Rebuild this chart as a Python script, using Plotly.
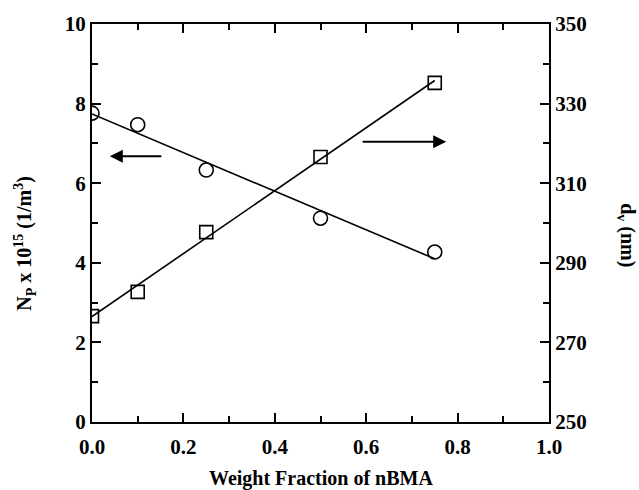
import plotly.graph_objects as go

# Data
wf = [0.0, 0.1, 0.25, 0.5, 0.75]
np_vals = [7.76, 7.47, 6.33, 5.12, 4.27]        # N_P x 10^15 (1/m^3), left axis
dv_vals = [276.6, 282.7, 297.7, 316.6, 335.2]   # d_v (nm), right axis

fit_x = [0.0, 0.75]
np_fit = [7.74, 4.10]
dv_fit = [276.5, 335.8]

FONT = "Liberation Serif"
fig = go.Figure()

fig.add_trace(go.Scatter(x=fit_x, y=np_fit, mode="lines",
                         line=dict(color="black", width=1.6), showlegend=False))
fig.add_trace(go.Scatter(x=wf, y=np_vals, mode="markers",
                         marker=dict(symbol="circle-open", size=14, color="black",
                                     line=dict(width=1.6)), showlegend=False))
fig.add_trace(go.Scatter(x=fit_x, y=dv_fit, mode="lines", yaxis="y2",
                         line=dict(color="black", width=1.6), showlegend=False))
fig.add_trace(go.Scatter(x=wf, y=dv_vals, mode="markers", yaxis="y2",
                         marker=dict(symbol="square-open", size=13, color="black",
                                     line=dict(width=1.6)), showlegend=False))

tickfont = dict(family=FONT, size=21, color="black", weight="bold")
axis_common = dict(showline=True, linecolor="black", linewidth=2, ticks="inside",
                   tickcolor="black", tickwidth=2, ticklen=9, showgrid=False,
                   zeroline=False, tickfont=tickfont)

fig.update_layout(
    width=639, height=490,
    margin=dict(l=92, r=90, t=24, b=68),
    plot_bgcolor="white", paper_bgcolor="white",
    xaxis=dict(range=[0, 1], dtick=0.2, tick0=0, tickformat=".1f", mirror="ticks",
               ticklabelstandoff=5,
               minor=dict(ticks="inside", dtick=0.1, tick0=0, ticklen=6, tickcolor="black", tickwidth=2),
               **axis_common),
    yaxis=dict(range=[0, 10], dtick=2, tick0=0,
               minor=dict(ticks="inside", dtick=1, tick0=0, ticklen=6, tickcolor="black", tickwidth=2),
               **axis_common),
    yaxis2=dict(range=[250, 350], dtick=20, tick0=250, overlaying="y", side="right",
                minor=dict(ticks="inside", dtick=10, tick0=250, ticklen=6, tickcolor="black", tickwidth=2),
                **axis_common),
)

title_font = dict(family=FONT, size=20, color="black", weight="bold")
fig.add_annotation(text="N<sub>P</sub> x 10<sup>15</sup> (1/m<sup>3</sup>)",
                   xref="paper", yref="paper", x=-0.147, y=0.45,
                   xanchor="center", yanchor="middle", textangle=-90,
                   showarrow=False, font=title_font)
fig.add_annotation(text="d<sub>v</sub> (nm)",
                   xref="paper", yref="paper", x=1.168, y=0.47,
                   xanchor="center", yanchor="middle", textangle=90,
                   showarrow=False, font=title_font)
fig.add_annotation(text="Weight Fraction of nBMA",
                   xref="paper", yref="paper", x=0.5, y=-0.141,
                   xanchor="center", yanchor="middle",
                   showarrow=False, font=title_font)

# Arrows indicating which axis each series belongs to
fig.add_annotation(x=0.039, y=6.68, ax=0.155, ay=6.68, xref="x", yref="y",
                   axref="x", ayref="y", text="", showarrow=True,
                   arrowhead=2, arrowsize=1.3, arrowwidth=2, arrowcolor="black")
fig.add_annotation(x=0.775, y=7.04, ax=0.589, ay=7.04, xref="x", yref="y",
                   axref="x", ayref="y", text="", showarrow=True,
                   arrowhead=2, arrowsize=1.3, arrowwidth=2, arrowcolor="black")

fig.write_html("out.html")
